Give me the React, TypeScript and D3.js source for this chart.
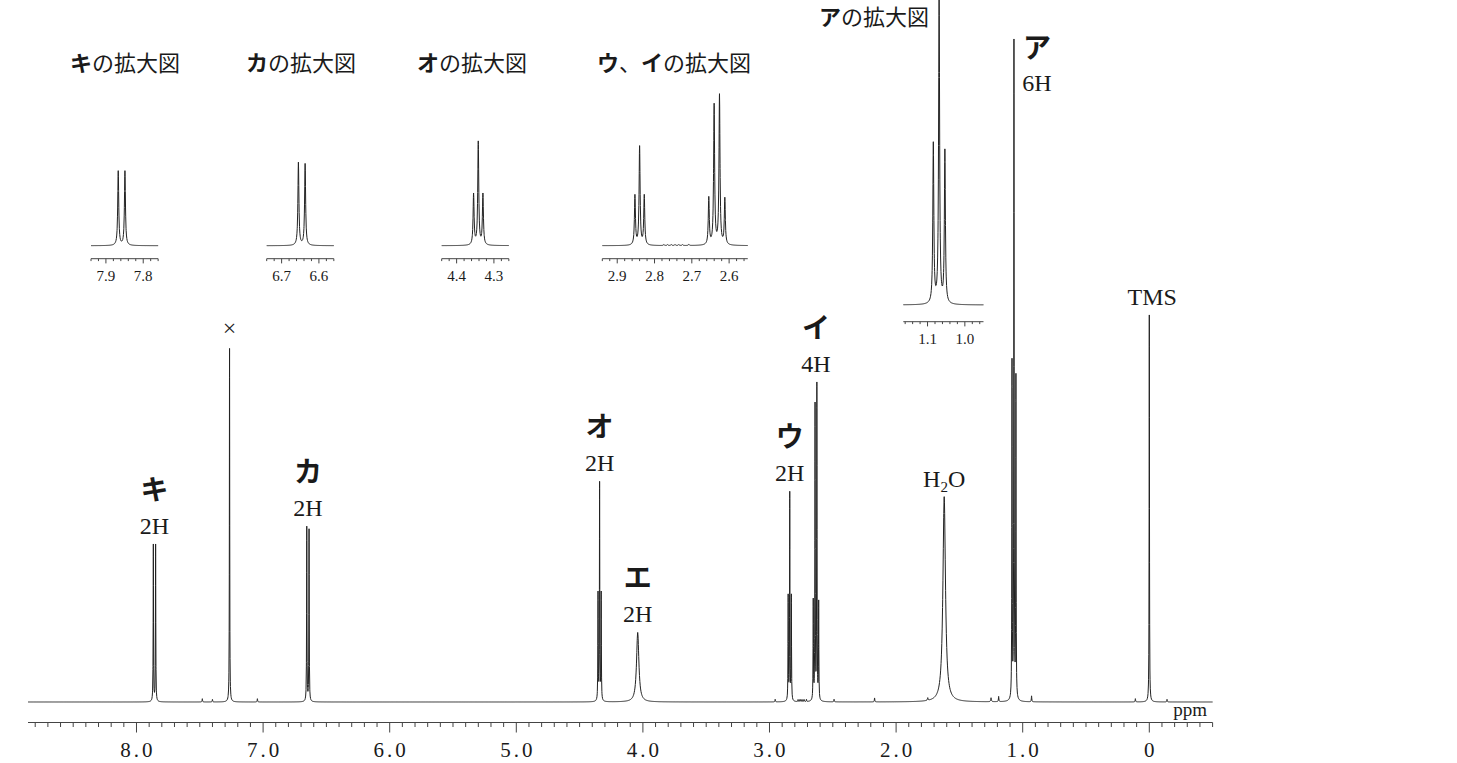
import React from "react";
import * as d3 from "d3";

const W = 1457;
const H = 763;

// Resonance lines: chemical shift (ppm), peak height (relative, ア centre line = 100), half width (ppm)
const lineShift = [
  7.867, 7.849, // キ
  7.265, // CHCl3
  6.655, 6.637, // カ
  4.3545, 4.342, 4.3295, // オ
  4.041, // エ (NH2)
  2.8525, 2.84, 2.8275, // ウ
  2.6545, 2.6402, 2.6258, 2.6115, // イ
  1.62, // H2O
  1.0845, 1.069, 1.0535, // ア
  0.0, // TMS
  // small impurity lines
  7.48, 7.4, 7.045, 2.955, 2.775, 2.765, 2.755, 2.745, 2.735, 2.725, 2.708,
  2.49, 2.17, 1.75, 1.25, 1.19, 0.93, 0.11, -0.14,
];
const lineHeight = [
  23.9, 23.9,
  53.9,
  26.6, 26.2,
  16.3, 33.1, 16.3,
  10.6,
  15.9, 31.6, 15.9,
  15.1, 44.9, 48.0, 14.8,
  31.3,
  51.2, 100, 48.9,
  59.0,
  0.5, 0.4, 0.5, 0.4, 0.3, 0.3, 0.3, 0.3, 0.3, 0.3, 0.35,
  0.4, 0.6, 0.4, 0.6, 0.8, 0.9, 0.5, 0.4,
];
const lineHwhm = [
  0.0016, 0.0016,
  0.0015,
  0.0016, 0.0016,
  0.0016, 0.0016, 0.0016,
  0.011,
  0.0016, 0.0016, 0.0016,
  0.0016, 0.0016, 0.0016, 0.0016,
  0.012,
  0.0016, 0.0016, 0.0016,
  0.0015,
  0.002, 0.002, 0.002, 0.002, 0.0015, 0.0015, 0.0015, 0.0015, 0.0015, 0.0015, 0.0015,
  0.002, 0.002, 0.003, 0.003, 0.002, 0.002, 0.002, 0.002,
];

// Assigned signals
const signalKana = ["キ", "カ", "オ", "エ", "ウ", "イ"];
const signalShift = [7.858, 6.646, 4.342, 4.041, 2.84, 2.633];
const signalProtons = ["2H", "2H", "2H", "2H", "2H", "4H"];
const methylKana = "ア";
const methylShift = 1.069;
const methylProtons = "6H";
const solventShift = 7.265;
const waterShift = 1.62;
const tmsShift = 0;

// Main axis
const mainDomain = [8.857, -0.5];
const mainMajorLabels = ["8.0", "7.0", "6.0", "5.0", "4.0", "3.0", "2.0", "1.0", "0"];
const mainMajorValues = [8, 7, 6, 5, 4, 3, 2, 1, 0];

// Expansions
const insetTitles = ["キの拡大図", "カの拡大図", "オの拡大図", "ウ、イの拡大図", "アの拡大図"];
const insetDomains = [
  [7.94, 7.76],
  [6.74, 6.56],
  [4.44, 4.26],
  [2.94, 2.55],
  [1.165, 0.95],
];

const SERIF = "'Liberation Serif', 'DejaVu Serif', serif";
const CJK = "'Noto Sans CJK JP', 'Noto Sans CJK SC', sans-serif";
const KANA = "アイウエオカキ";

function intensityAt(p: number): number {
  let s = 0;
  for (let i = 0; i < lineShift.length; i++) {
    const d = (p - lineShift[i]) / lineHwhm[i];
    s += lineHeight[i] / (1 + d * d);
  }
  return s;
}

function samplePoints(hi: number, lo: number, step: number): number[] {
  const pts: number[] = d3.range(lo, hi, step);
  pts.push(hi);
  const offs = [-8, -4, -2, -1, -0.6, -0.3, 0, 0.3, 0.6, 1, 2, 4, 8];
  lineShift.forEach((c, i) => {
    offs.forEach((k) => {
      const p = c + k * lineHwhm[i];
      if (p >= lo && p <= hi) pts.push(p);
    });
  });
  return pts.sort((a, b) => a - b);
}

function groupTop(shift: number): number {
  let m = 0;
  lineShift.forEach((c) => {
    if (Math.abs(c - shift) < 0.03) m = Math.max(m, intensityAt(c));
  });
  return m;
}

function Title({ text, x, y }: { text: string; x: number; y: number }) {
  const parts: { t: string; bold: boolean }[] = [];
  for (const ch of text) {
    const bold = KANA.includes(ch);
    const last = parts[parts.length - 1];
    if (last && last.bold === bold) last.t += ch;
    else parts.push({ t: ch, bold });
  }
  return (
    <text x={x} y={y} textAnchor="middle" fontFamily={CJK} fontSize={22} fill="#1a1a1a">
      {parts.map((p, i) => (
        <tspan key={i} fontWeight={p.bold ? 700 : 400}>
          {p.t}
        </tspan>
      ))}
    </text>
  );
}

type InsetLayout = { x0: number; base: number; axisY: number; titleX: number; titleY: number };

export default function App() {
  const x = d3.scaleLinear().domain(mainDomain).range([28, 1212.6]);
  const y = d3.scaleLinear().domain([0, 100]).range([702, 46]);

  const mainPts = samplePoints(mainDomain[0], mainDomain[1], 0.003);
  const mainPath = d3
    .line<number>()
    .x((p) => x(p))
    .y((p) => y(intensityAt(p)))(mainPts) as string;

  const mainTicks = d3.range(Math.ceil(mainDomain[1] * 10), Math.floor(mainDomain[0] * 10) + 1);
  const axisY = 722.5;

  const pxPerPpm = 373;
  const insetScaleY = 311.6 / 100;
  const layouts: InsetLayout[] = [
    { x0: 91, base: 245.7, axisY: 258.7, titleX: 125, titleY: 71 },
    { x0: 266.7, base: 245.7, axisY: 258.7, titleX: 301, titleY: 71 },
    { x0: 441.7, base: 245.7, axisY: 258.7, titleX: 472, titleY: 71 },
    { x0: 602.3, base: 245.7, axisY: 258.7, titleX: 674, titleY: 71 },
    { x0: 903.3, base: 305, axisY: 321.7, titleX: 874, titleY: 25 },
  ];

  const textFill = "#1a1a1a";

  return (
    <svg
      width={W}
      height={H}
      viewBox={`0 0 ${W} ${H}`}
      style={{ position: "absolute", left: 0, top: 0, background: "#fff", display: "block" }}
    >
      <rect x={0} y={0} width={W} height={H} fill="#fff" />

      {/* main spectrum */}
      <path d={mainPath} fill="none" stroke="#222" strokeWidth={1} strokeLinejoin="round" />

      {/* main axis */}
      <line x1={x(mainDomain[0])} x2={x(mainDomain[1])} y1={axisY} y2={axisY} stroke="#444" strokeWidth={1.2} />
      {mainTicks.map((k) => {
        const major = k % 10 === 0;
        const xx = x(k / 10);
        return <line key={k} x1={xx} x2={xx} y1={axisY} y2={axisY + (major ? 10 : 4.5)} stroke="#444" strokeWidth={1} />;
      })}
      {mainMajorValues.map((v, i) => (
        <text
          key={v}
          x={x(v) + 1.5}
          y={757}
          textAnchor="middle"
          fontFamily={SERIF}
          fontSize={21}
          letterSpacing={3}
          fill={textFill}
        >
          {mainMajorLabels[i]}
        </text>
      ))}
      <text x={1207} y={716} textAnchor="end" fontFamily={SERIF} fontSize={19} fill={textFill}>
        ppm
      </text>

      {/* signal labels */}
      {signalKana.map((k, i) => {
        const top = y(groupTop(signalShift[i]));
        const cx = x(signalShift[i]);
        return (
          <g key={k}>
            <text x={cx} y={top - 44} textAnchor="middle" fontFamily={CJK} fontWeight={700} fontSize={28} fill={textFill}>
              {k}
            </text>
            <text x={cx} y={top - 10} textAnchor="middle" fontFamily={SERIF} fontSize={24} fill={textFill}>
              {signalProtons[i]}
            </text>
          </g>
        );
      })}
      <text x={x(methylShift) + 23} y={58} textAnchor="middle" fontFamily={CJK} fontWeight={700} fontSize={28} fill={textFill}>
        {methylKana}
      </text>
      <text x={x(methylShift) + 23} y={91} textAnchor="middle" fontFamily={SERIF} fontSize={24} fill={textFill}>
        {methylProtons}
      </text>
      <text x={x(solventShift)} y={y(groupTop(solventShift)) - 12} textAnchor="middle" fontFamily={SERIF} fontSize={24} fill={textFill}>
        ×
      </text>
      <text x={x(waterShift)} y={y(groupTop(waterShift)) - 10} textAnchor="middle" fontFamily={SERIF} fontSize={24} fill={textFill}>
        H
        <tspan fontSize={15} dy={5}>
          2
        </tspan>
        <tspan dy={-5}>O</tspan>
      </text>
      <text x={x(tmsShift) + 3} y={y(groupTop(tmsShift)) - 10} textAnchor="middle" fontFamily={SERIF} fontSize={24} fill={textFill}>
        TMS
      </text>

      {/* expansions */}
      {insetTitles.map((title, i) => {
        const [hi, lo] = insetDomains[i];
        const L = layouts[i];
        const ix = d3
          .scaleLinear()
          .domain([hi, lo])
          .range([L.x0, L.x0 + (hi - lo) * pxPerPpm]);
        const iy = d3
          .scaleLinear()
          .domain([0, 100])
          .range([L.base, L.base - 100 * insetScaleY]);
        const pts = samplePoints(hi, lo, 0.001);
        const path = d3
          .line<number>()
          .x((p) => ix(p))
          .y((p) => iy(intensityAt(p)))(pts) as string;
        const ticks = d3.range(Math.ceil(lo / 0.02 - 1e-9), Math.floor(hi / 0.02 + 1e-9) + 1);
        return (
          <g key={title}>
            <Title text={title} x={L.titleX} y={L.titleY} />
            <path d={path} fill="none" stroke="#222" strokeWidth={1} strokeLinejoin="round" />
            <line x1={ix(hi)} x2={ix(lo)} y1={L.axisY} y2={L.axisY} stroke="#444" strokeWidth={1} />
            {ticks.map((k) => {
              const major = k % 5 === 0;
              const xx = ix(k * 0.02);
              return (
                <g key={k}>
                  <line x1={xx} x2={xx} y1={L.axisY} y2={L.axisY + (major ? 4.7 : 2.4)} stroke="#444" strokeWidth={1} />
                  {major && (
                    <text x={xx} y={L.axisY + 22} textAnchor="middle" fontFamily={SERIF} fontSize={15} fill={textFill}>
                      {(k * 0.02).toFixed(1)}
                    </text>
                  )}
                </g>
              );
            })}
          </g>
        );
      })}
    </svg>
  );
}
